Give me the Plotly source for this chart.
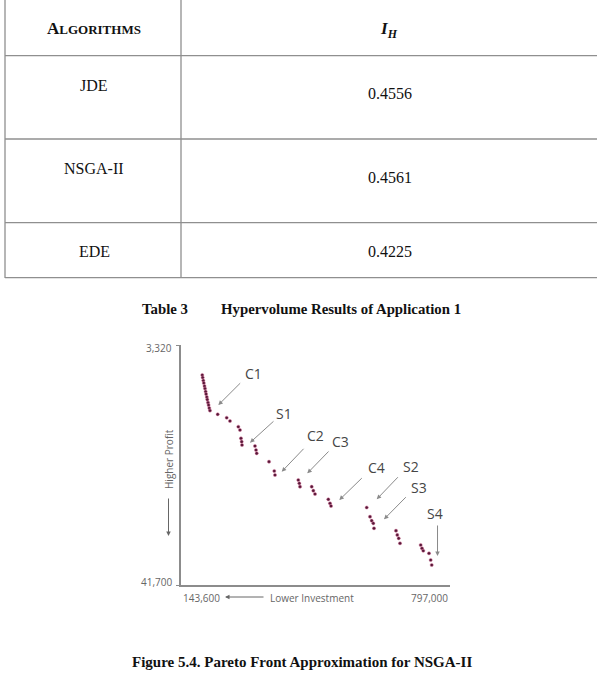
import plotly.graph_objects as go

W, H = 597, 682

# ---------------- data ----------------
algorithms = ["JDE", "NSGA-II", "EDE"]
hypervolume = [0.4556, 0.4561, 0.4225]

investment = [195300, 196300, 197800, 199000, 200700, 201900, 203400, 204600, 206300, 207500,
              209200, 210600, 212300, 214000,
              232700, 254600, 262600, 282800, 286900, 289300, 291000, 291800, 323300, 325800,
              327500, 357400, 370200, 371900,
              428500, 431000, 432700, 461100, 465000, 469100, 501400, 505500, 508000, 594700,
              602700, 606800, 610700, 612400,
              665800, 669000, 672400, 675600, 725800, 729000, 732100, 746000, 750100, 752600]
profit = [8120, 8520, 9000, 9400, 9880, 10280, 10760, 11160, 11640, 12040,
          12520, 12920, 13400, 13800,
          14400, 14950, 15470, 16390, 16910, 18240, 18780, 19310, 19470, 20110,
          20640, 21980, 23470, 24110,
          24910, 25440, 25980, 25980, 26620, 27150, 28000, 28640, 29070, 29310,
          30780, 31420, 31830, 32630,
          33020, 33700, 34230, 35030, 35300, 35830, 36220, 36630, 37700, 38500]

x_ends = [143600, 797000]
x_end_labels = ["143,600", "797,000"]
y_ends = [3320, 41700]
y_end_labels = ["3,320", "41,700"]

callout_labels = ["C1", "S1", "C2", "C3", "C4", "S2", "S3", "S4"]

# ---------------- layout helpers ----------------
def px(x):
    return x / W

def py(y):
    return 1 - y / H

# callout label positions and arrows (tail -> head) in data units
label_pos = [(319200, 7850), (393800, 14240), (470800, 17870), (529800, 18780),
             (617300, 22880), (702300, 22780), (722400, 26080), (760600, 30230)]
arrow_tail = [(291000, 9190), (371900, 15310), (444800, 19680), (505500, 20110),
              (586400, 24380), (673900, 24220), (693300, 27420), (766700, 31940)]
arrow_head = [(234200, 12920), (311200, 18940), (388200, 23580), (450400, 23840),
              (528100, 28110), (619000, 27990), (636700, 31190), (766700, 37060)]

fig = go.Figure()

fig.add_trace(go.Scatter(
    x=investment, y=profit, mode="markers",
    marker=dict(size=3.2, color="#561838",
                line=dict(width=0.9, color="rgba(215,110,150,0.5)")),
    hoverinfo="x+y", showlegend=False,
))

serif = "Liberation Serif, Times New Roman, serif"
sans = "Open Sans, Lato, sans-serif"

annotations = []

def note(x, y, text, font, xref="paper", yref="paper", **kw):
    d = dict(x=x, y=y, xref=xref, yref=yref, showarrow=False, text=text,
             font=font, xanchor="center", yanchor="middle")
    d.update(kw)
    annotations.append(d)

# ---- table text ----
note(px(94), py(29), "<b>A<span style='font-size:13px'>LGORITHMS</span></b>",
     dict(family=serif, size=17, color="#111"))
note(px(389), py(30), "<b><i>I</i></b><sub><b><i>H</i></b></sub>",
     dict(family=serif, size=17, color="#111"))

alg_y = [85, 168, 251]
val_y = [94, 177, 251]
for a, v, ya, yv in zip(algorithms, hypervolume, alg_y, val_y):
    note(px(94), py(ya), a, dict(family=serif, size=16, color="#111"))
    note(px(390), py(yv), f"{v:.4f}", dict(family=serif, size=16, color="#111"))

# ---- captions ----
note(px(165), py(309), "<b>Table 3</b>", dict(family=serif, size=14.8, color="#111"))
note(px(219), py(309), "<b>Hypervolume Results of Application 1</b>",
     dict(family=serif, size=14.8, color="#111"), xanchor="left")
note(px(302), py(662), "<b>Figure 5.4. Pareto Front Approximation for NSGA-II</b>",
     dict(family=serif, size=15, color="#111"))

# ---- axis end labels ----
tick_font = dict(family=sans, size=10, color="#666666")
note(x_ends[0], py(598), x_end_labels[0], tick_font, xref="x", xanchor="left")
note(x_ends[1], py(598), x_end_labels[1], tick_font, xref="x", xanchor="right")
note(px(174), y_ends[0], y_end_labels[0], tick_font, yref="y", xanchor="right", yshift=-3)
note(px(174), y_ends[1], y_end_labels[1], tick_font, yref="y", xanchor="right", yshift=3)

# ---- axis titles with arrows ----
note(px(312), py(598), "Lower Investment", tick_font)
annotations.append(dict(x=px(225), y=py(597), xref="paper", yref="paper",
                        ax=40, ay=0, text="", showarrow=True, arrowhead=2,
                        arrowsize=0.9, arrowwidth=1, arrowcolor="#666"))
note(px(169), py(459), "Higher Profit", tick_font, textangle=-90)
annotations.append(dict(x=px(168.5), y=py(536), xref="paper", yref="paper",
                        ax=0, ay=-39, text="", showarrow=True, arrowhead=2,
                        arrowsize=0.9, arrowwidth=1, arrowcolor="#666"))

# ---- callouts ----
for lab, (lx, ly), (tx, ty), (hx, hy) in zip(callout_labels, label_pos, arrow_tail, arrow_head):
    note(lx, ly, lab, dict(family=sans, size=14, color="#454545"), xref="x", yref="y")
    annotations.append(dict(x=hx, y=hy, ax=tx, ay=ty, xref="x", yref="y",
                            axref="x", ayref="y", text="", showarrow=True,
                            arrowhead=2, arrowsize=0.9, arrowwidth=1,
                            arrowcolor="#8a8a8a"))

# ---- table lines ----
line_style = dict(color="#8f8f8f", width=1.3)
shapes = []
for xv in [5, 181]:
    shapes.append(dict(type="line", xref="paper", yref="paper",
                       x0=px(xv), x1=px(xv), y0=py(0), y1=py(278), line=line_style))
for yv in [55.7, 139, 222.7, 277.7]:
    shapes.append(dict(type="line", xref="paper", yref="paper",
                       x0=px(5), x1=1, y0=py(yv), y1=py(yv), line=line_style))

fig.update_layout(
    width=W, height=H,
    margin=dict(l=0, r=0, t=0, b=0),
    paper_bgcolor="white", plot_bgcolor="white",
    showlegend=False,
    annotations=annotations,
    shapes=shapes,
    xaxis=dict(domain=[px(181), px(450)], range=x_ends, showgrid=False,
               zeroline=False, showline=True, linecolor="#8c8c8c", linewidth=1.5,
               ticks="", showticklabels=False, fixedrange=True),
    yaxis=dict(domain=[py(585), py(345)], range=[y_ends[1], y_ends[0]],
               showgrid=False, zeroline=False, showline=True, linecolor="#8c8c8c",
               linewidth=1.5, ticks="outside", ticklen=3, tickcolor="#8c8c8c",
               tickvals=y_ends, showticklabels=False, fixedrange=True),
)

fig.write_html("out.html", config={"displayModeBar": False},
               post_script="document.body.style.margin='0px';document.body.style.overflow='hidden';")
